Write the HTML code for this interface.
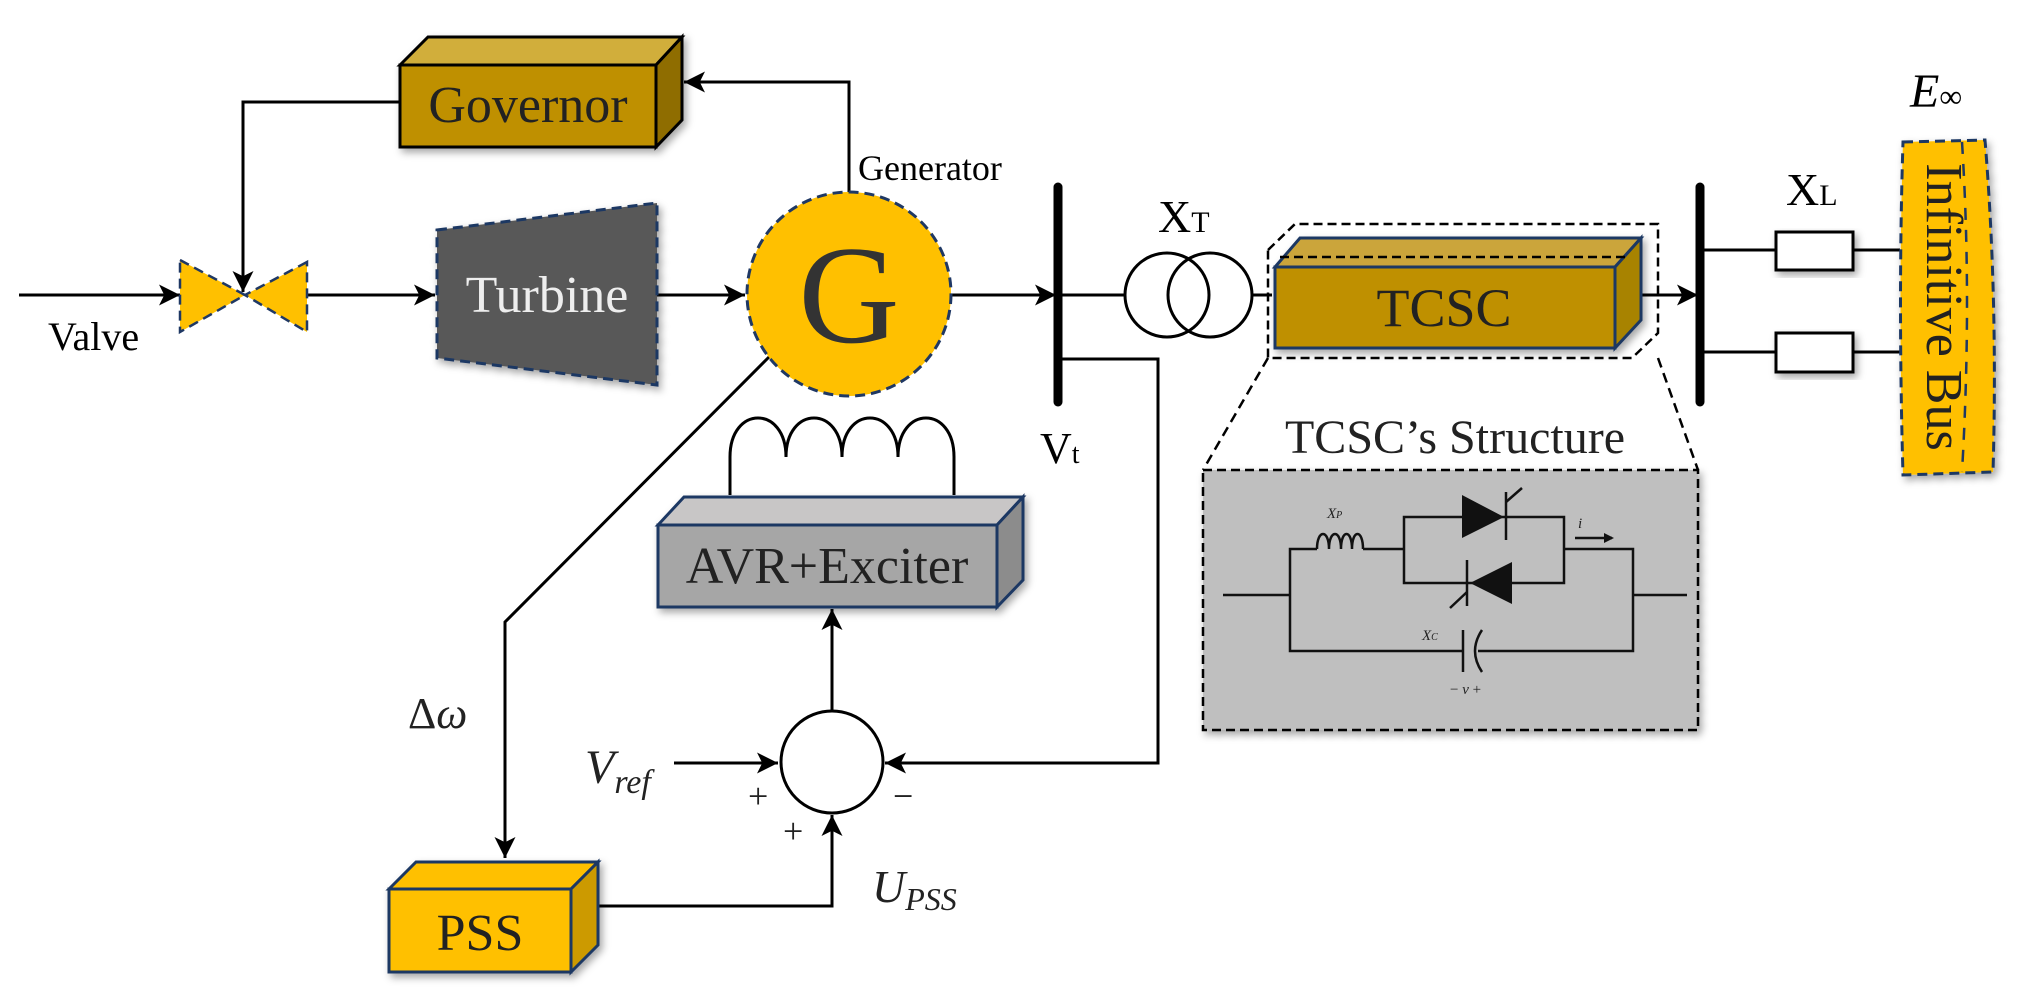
<!DOCTYPE html>
<html><head><meta charset="utf-8"><style>
html,body{margin:0;padding:0;background:#fff;}
svg{display:block;}
text{font-family:"Liberation Serif",serif;}
</style></head><body>
<svg width="2027" height="990" viewBox="0 0 2027 990" xmlns="http://www.w3.org/2000/svg">
<defs>
<marker id="ar" viewBox="0 0 10 10" refX="10" refY="5" markerWidth="7" markerHeight="7" markerUnits="strokeWidth" orient="auto"><path d="M0,0 L10,5 L0,10 L2.5,5 z" fill="#000"/></marker>
<filter id="sh" x="-10%" y="-10%" width="130%" height="130%"><feDropShadow dx="3" dy="4" stdDeviation="4" flood-color="#000" flood-opacity="0.35"/></filter>
</defs>
<g stroke="#000" stroke-width="3" fill="none">
<!-- input -->
<line x1="19" y1="295" x2="180" y2="295" marker-end="url(#ar)"/>
<line x1="307" y1="295" x2="435" y2="295" marker-end="url(#ar)"/>
<line x1="657" y1="295" x2="745" y2="295" marker-end="url(#ar)"/>
<line x1="951" y1="295" x2="1056" y2="295" marker-end="url(#ar)"/>
<line x1="1058" y1="295" x2="1125" y2="295"/>
<line x1="1252" y1="295" x2="1272" y2="295"/>
<line x1="1641" y1="295" x2="1698" y2="295" marker-end="url(#ar)"/>
<!-- governor loop -->
<polyline points="849,192 849,82 684,82" marker-end="url(#ar)"/>
<polyline points="400,102 243,102 243,292" marker-end="url(#ar)"/>
<!-- Vt feedback -->
<polyline points="1058,359 1158,359 1158,763 885,763" marker-end="url(#ar)"/>
<line x1="674" y1="763" x2="778" y2="763" marker-end="url(#ar)"/>
<line x1="832" y1="711" x2="832" y2="609" marker-end="url(#ar)"/>
<polyline points="598,906 832,906 832,815" marker-end="url(#ar)"/>
<polyline points="769,357 505,622 505,858" marker-end="url(#ar)"/>
<!-- inductor -->
<path d="M730,495 V457 C730,405 786,405 786,457 C786,405 842,405 842,457 C842,405 898,405 898,457 C898,405 954,405 954,457 V495"/>
<!-- XL lines -->
<line x1="1702" y1="250" x2="1776" y2="250"/><line x1="1853" y1="250" x2="1900" y2="250"/>
<line x1="1702" y1="352" x2="1776" y2="352"/><line x1="1853" y1="352" x2="1900" y2="352"/>
<!-- summer -->
<circle cx="832" cy="762" r="51" fill="#fff" stroke-width="3"/>
<!-- transformer -->
<circle cx="1167" cy="295" r="42"/><circle cx="1210" cy="295" r="42"/>
</g>
<!-- buses -->
<line x1="1058" y1="187" x2="1058" y2="402" stroke="#000" stroke-width="9" stroke-linecap="round"/>
<line x1="1700" y1="187" x2="1700" y2="402" stroke="#000" stroke-width="9" stroke-linecap="round"/>
<rect x="1776" y="232" width="77" height="38" fill="#fff" stroke="#000" stroke-width="3" filter="url(#sh)"/>
<rect x="1776" y="333" width="77" height="39" fill="#fff" stroke="#000" stroke-width="3" filter="url(#sh)"/>
<!-- valve -->
<polygon points="180,260 245,295 180,332" fill="#FFC000" stroke="#1F3864" stroke-width="2.5" stroke-dasharray="10,6"/>
<polygon points="307,262 245,295 307,332" fill="#FFC000" stroke="#1F3864" stroke-width="2.5" stroke-dasharray="10,6"/>
<text x="48" y="350" font-size="40">Valve</text>
<!-- Governor -->
<g filter="url(#sh)" stroke="#000" stroke-width="3">
<polygon points="400,65 428,37 682,37 656,65" fill="#D1AE3A"/>
<polygon points="656,65 682,37 682,120 656,147" fill="#8F6D00"/>
<rect x="400" y="65" width="256" height="82" fill="#BF9000"/>
</g>
<text x="528" y="122" font-size="52" text-anchor="middle" fill="#222">Governor</text>
<!-- Turbine -->
<polygon points="437,230 657,203 657,385 437,358" fill="#595959" stroke="#1F3864" stroke-width="3" stroke-dasharray="10,6" filter="url(#sh)"/>
<text x="547" y="312" font-size="52" text-anchor="middle" fill="#eee">Turbine</text>
<!-- Generator -->
<circle cx="849" cy="294" r="102" fill="#FFC000" stroke="#1F3864" stroke-width="3" stroke-dasharray="10,6"/>
<text x="849" y="342" font-size="140" text-anchor="middle" fill="#333">G</text>
<text x="858" y="180" font-size="36">Generator</text>
<!-- labels -->
<text x="1040" y="463" font-size="44">V<tspan font-size="28">t</tspan></text>
<text x="1158" y="232" font-size="46">X<tspan font-size="30">T</tspan></text>
<text x="1786" y="205" font-size="46">X<tspan font-size="30">L</tspan></text>
<text x="1910" y="107" font-size="48" font-style="italic">E<tspan font-size="32" font-style="normal">∞</tspan></text>
<!-- TCSC -->
<polygon points="1268,250 1295,224 1658,224 1658,333 1632,358 1268,358" fill="none" stroke="#000" stroke-width="2.5" stroke-dasharray="9,5"/>
<g filter="url(#sh)" stroke="#1F3864" stroke-width="3">
<polygon points="1275,267 1300,238 1641,238 1615,267" fill="#CBA53A"/>
<polygon points="1615,267 1641,238 1641,320 1615,348" fill="#A88300"/>
<rect x="1275" y="267" width="340" height="81" fill="#BF9000"/>
</g>
<line x1="1280" y1="257" x2="1628" y2="257" stroke="#000" stroke-width="2.5" stroke-dasharray="9,5"/>
<text x="1444" y="326" font-size="54" text-anchor="middle" fill="#222">TCSC</text>
<line x1="1268" y1="358" x2="1203" y2="470" stroke="#000" stroke-width="2.5" stroke-dasharray="10,6"/>
<line x1="1658" y1="358" x2="1698" y2="470" stroke="#000" stroke-width="2.5" stroke-dasharray="10,6"/>
<text x="1455" y="453" font-size="48" text-anchor="middle" fill="#222">TCSC’s Structure</text>
<rect x="1203" y="470" width="495" height="260" fill="#BFBFBF" stroke="#000" stroke-width="2.5" stroke-dasharray="9,5" filter="url(#sh)"/>
<g stroke="#111" stroke-width="2.5" fill="none">
<line x1="1223" y1="595" x2="1290" y2="595"/><line x1="1633" y1="595" x2="1687" y2="595"/>
<polyline points="1317,549 1290,549 1290,651 1463,651"/>
<polyline points="1478,651 1633,651 1633,549 1564,549"/>
<line x1="1363" y1="549" x2="1404" y2="549"/>
<path d="M1317,549 c0,-20 12,-20 12,0 c0,-20 12,-20 12,0 c0,-20 11,-20 11,0 c0,-20 11,-20 11,0"/>
<rect x="1404" y="517" width="160" height="66"/>
<line x1="1506" y1="492" x2="1506" y2="540"/><line x1="1506" y1="502" x2="1522" y2="488"/>
<line x1="1467" y1="560" x2="1467" y2="606"/><line x1="1467" y1="592" x2="1450" y2="608"/>
<line x1="1463" y1="630" x2="1463" y2="672"/>
<path d="M1482,630 Q1468,651 1482,672"/>
<line x1="1575" y1="538" x2="1612" y2="538"/>
</g>
<polygon points="1462,495 1504,517 1462,538" fill="#111"/>
<polygon points="1512,562 1470,583 1512,604" fill="#111"/>
<polygon points="1614,538 1604,533 1604,543" fill="#111"/>
<g font-family="Liberation Sans,sans-serif" font-style="italic" font-size="15" fill="#222">
<text x="1327" y="518">X<tspan font-size="10">P</tspan></text>
<text x="1422" y="640">X<tspan font-size="10">C</tspan></text>
<text x="1578" y="528">i</text>
<text x="1450" y="694" font-style="normal">− <tspan font-style="italic">v</tspan> +</text>
</g>
<!-- Infinitive bus -->
<path d="M1903,142 L1985,140 Q1998,300 1993,472 L1903,475 Q1898,300 1903,142 z" fill="#FFC000" stroke="#1F3864" stroke-width="3" stroke-dasharray="10,6" filter="url(#sh)"/>
<path d="M1962,142 Q1972,300 1962,472" fill="none" stroke="#1F3864" stroke-width="2.5" stroke-dasharray="12,10"/>
<text transform="translate(1927,307) rotate(90)" font-size="52" text-anchor="middle" fill="#222">Infinitive Bus</text>
<!-- AVR -->
<g filter="url(#sh)" stroke="#1F3864" stroke-width="3">
<polygon points="658,525 684,497 1023,497 997,525" fill="#C8C6C6"/>
<polygon points="997,525 1023,497 1023,580 997,607" fill="#8C8C8C"/>
<rect x="658" y="525" width="339" height="82" fill="#A6A6A6"/>
</g>
<text x="827" y="583" font-size="52" text-anchor="middle" fill="#222">AVR+Exciter</text>
<!-- PSS -->
<g filter="url(#sh)" stroke="#1F3864" stroke-width="3">
<polygon points="389,889 416,862 598,862 571,889" fill="#FFC000"/>
<polygon points="571,889 598,862 598,945 571,972" fill="#CC9A00"/>
<rect x="389" y="889" width="182" height="83" fill="#FFC000"/>
</g>
<text x="480" y="950" font-size="52" text-anchor="middle" fill="#222">PSS</text>
<!-- summer labels -->
<text x="408" y="728" font-size="44" fill="#222">Δ<tspan font-style="italic">ω</tspan></text>
<text x="585" y="783" font-size="48" font-style="italic" fill="#222">V<tspan font-size="34" dy="10">ref</tspan></text>
<text x="748" y="808" font-size="36" fill="#222">+</text>
<text x="783" y="843" font-size="36" fill="#222">+</text>
<text x="893" y="808" font-size="36" fill="#222">−</text>
<text x="872" y="902" font-size="46" font-style="italic" fill="#222">U<tspan font-size="32" dy="8">PSS</tspan></text>
</svg>
</body></html>
